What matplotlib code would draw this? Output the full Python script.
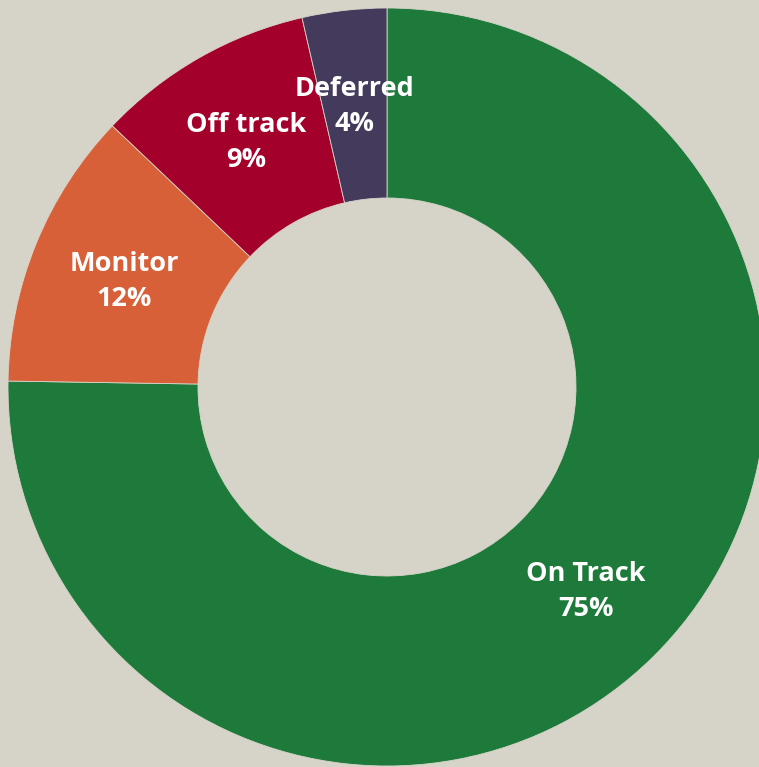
import numpy as np
import matplotlib
matplotlib.use("Agg")
import matplotlib.pyplot as plt

# slice shares (clockwise from 12 o'clock)
categories = ["On Track", "Monitor", "Off track", "Deferred"]
shares = [75.25, 11.85, 9.3, 3.6]
pct_labels = ["75%", "12%", "9%", "4%"]
colors = ["#1e7a3a", "#d86038", "#a3002b", "#433a5c"]
bg = "#d6d4c9"

W, H = 759, 767
fig = plt.figure(figsize=(W / 100, H / 100), dpi=100, facecolor=bg)
ax = fig.add_axes([0, 0, 1, 1])
ax.set_facecolor(bg)

cx, cy = 387, H - 387
r_out, ring = 379, 190

wedges, _ = ax.pie(shares, colors=colors, startangle=90, counterclock=False,
                   radius=r_out, center=(cx, cy),
                   wedgeprops=dict(width=ring, edgecolor=bg, linewidth=0.6))

# labels sit in the middle of the ring
r_lab = r_out - ring / 2
for w, cat, pct in zip(wedges, categories, pct_labels):
    ang = np.deg2rad((w.theta1 + w.theta2) / 2)
    x = cx + r_lab * np.cos(ang)
    y = cy + r_lab * np.sin(ang) - 2
    ax.text(x, y, f"{cat}\n{pct}", ha="center", va="center",
            color="white", fontsize=19.5, fontweight="bold",
            family="Open Sans", linespacing=1.45)

ax.set_xlim(0, W)
ax.set_ylim(0, H)
ax.set_aspect("equal")
ax.axis("off")

fig.savefig("out.png", dpi=100, facecolor=bg)
